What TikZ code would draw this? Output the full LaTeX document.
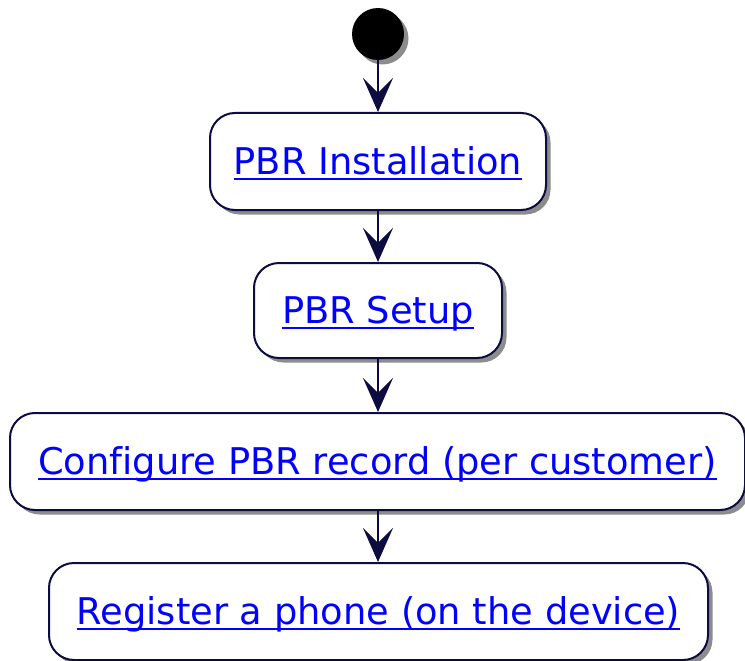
\documentclass[tikz,border=0pt]{standalone}
\usepackage{fontspec}
\setmainfont[Ligatures=NoCommon]{DejaVu Sans}
\usetikzlibrary{arrows.meta,shadows}
\definecolor{navy}{RGB}{12,12,64}
\definecolor{linkblue}{RGB}{0,0,255}
\newcommand\linktext[1]{\setbox0\hbox{#1}\rlap{\rule[-5.5pt]{\wd0}{2pt}}\box0}
\tikzset{
  actbox/.style={draw=navy, line width=2pt, fill=white, rounded corners=25pt,
    inner sep=0pt, text height=31pt, text depth=6pt,
    font=\fontsize{36.8}{44}\selectfont, text=linkblue,
    drop shadow={shadow xshift=4.5pt, shadow yshift=-4.5pt, fill=black, opacity=0.45}},
  startdot/.style={circle, fill=black, inner sep=0pt, minimum size=52pt,
    drop shadow={shadow xshift=4.5pt, shadow yshift=-4.5pt, fill=black, opacity=0.45}},
  flow/.style={draw=navy, line width=2.8pt,
    -{Stealth[length=34pt, width=30pt, inset=15pt, navy]}}
}
\begin{document}
\begin{tikzpicture}[x=1pt, y=-1pt]
\useasboundingbox (0,0) rectangle (745,661);
\node[startdot] (start) at (378,34) {};
\node[actbox, minimum width=336pt, minimum height=97pt] (inst) at (378,161.5) {\linktext{PBR Installation}};
\node[actbox, minimum width=248pt, minimum height=95pt] (setup) at (378,310.5) {\linktext{PBR Setup}};
\node[actbox, minimum width=735pt, minimum height=97pt] (conf) at (377.5,461.5) {\linktext{Configure PBR record (per customer)}};
\node[actbox, minimum width=659pt, minimum height=97pt] (reg) at (378.5,611.5) {\linktext{Register a phone (on the device)}};
\draw[flow] (start.south) -- (inst.north);
\draw[flow] (inst.south) -- (setup.north);
\draw[flow] (setup.south) -- (setup.south |- conf.north);
\draw[flow] (conf.south -| setup.south) -- (setup.south |- reg.north);
\end{tikzpicture}
\end{document}
